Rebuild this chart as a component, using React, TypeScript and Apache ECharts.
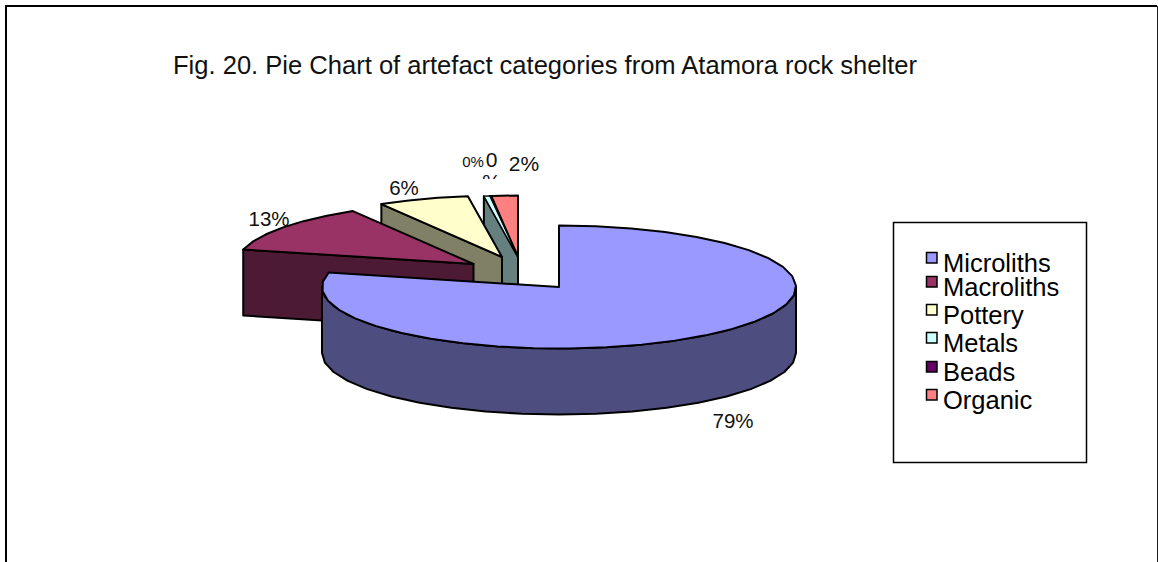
import React, { useEffect, useRef } from "react";
import * as echarts from "echarts";

const categories = ["Microliths", "Macroliths", "Pottery", "Metals", "Beads", "Organic"];
const shares = [78.8, 12.7, 6.2, 0.4, 0.1, 1.8];
const topColors = ["#9999FF", "#993366", "#FFFFCC", "#CCFFFF", "#660066", "#FF8080"];
const wallColors = ["#4D4D80", "#4D1A33", "#808066", "#668080", "#330033", "#804040"];

// Apex of each pulled-out slice on the page.
const apexX = [559, 473.5, 502, 518, 518, 518];
const apexY = [287, 264, 257, 257, 257, 257];

const RX = 237;
const RY = 61.5;
const DEPTH = 66;
const ARC_STEP = 9;
const FONT = '"Liberation Sans", Arial, sans-serif';

const legendRowY = [263, 287, 315, 343, 372, 400];
const labelX = [733, 269, 404, 473, 491.5, 524];
const labelY = [420, 218, 187, 161, 159, 163];
const labelSize = [20.5, 20.5, 20.5, 15, 21, 21];

function rimPoint(cx: number, cy: number, deg: number, drop = 0): number[] {
  const a = (deg * Math.PI) / 180;
  return [cx + RX * Math.sin(a), cy - RY * Math.cos(a) + drop];
}

function arcPoints(cx: number, cy: number, from: number, to: number, drop = 0): number[][] {
  const pts: number[][] = [];
  const n = Math.max(1, Math.ceil((to - from) / ARC_STEP));
  for (let k = 0; k <= n; k++) pts.push(rimPoint(cx, cy, from + ((to - from) * k) / n, drop));
  return pts;
}

function sliceAngles(index: number): [number, number] {
  const total = shares.reduce((s, v) => s + v, 0);
  const before = shares.slice(0, index).reduce((s, v) => s + v, 0);
  return [(before / total) * 360, ((before + shares[index]) / total) * 360];
}

const outline = (fill: string, width = 2) => ({ fill, stroke: "#000", lineWidth: width, lineJoin: "round" as const });

function renderSlice(_: unknown, api: any) {
  const i = api.value(0) as number;
  const [from, to] = sliceAngles(i);
  const cx = apexX[i];
  const cy = apexY[i];
  const children: any[] = [];

  // Rim wall on the part of the arc that faces the viewer.
  const frontFrom = Math.max(from, 90);
  const frontTo = Math.min(to, 270);
  if (frontTo > frontFrom) {
    const upper = arcPoints(cx, cy, frontFrom, frontTo);
    const lower = arcPoints(cx, cy, frontFrom, frontTo, DEPTH).reverse();
    children.push({
      type: "polygon",
      shape: { points: upper.concat(lower) },
      style: outline(wallColors[i]),
    });
  }

  // The cut face along the slice's leading edge, dropped by the pie's depth.
  if (from >= 180) {
    const edge = rimPoint(cx, cy, from);
    children.push({
      type: "polygon",
      shape: {
        points: [edge, [cx, cy], [cx, cy + DEPTH], [edge[0], edge[1] + DEPTH]],
      },
      style: outline(wallColors[i]),
    });
  }

  children.push({
    type: "polygon",
    shape: { points: [[cx, cy], ...arcPoints(cx, cy, from, to)] },
    style: outline(topColors[i], i === 3 || i === 4 ? 1.2 : 2),
  });
  return { type: "group", children };
}

function renderLabel(_: unknown, api: any) {
  const i = api.value(0) as number;
  const pct = `${Math.round(shares[i])}%`;
  const wrapped = categories[i] === "Beads";
  return {
    type: "text",
    x: labelX[i],
    y: labelY[i],
    style: {
      text: wrapped ? pct.replace("%", "\n%") : pct,
      fontFamily: FONT,
      fontSize: labelSize[i],
      lineHeight: wrapped ? 22.5 : labelSize[i],
      fill: "#111",
      align: "center",
      verticalAlign: wrapped ? "top" : "middle",
    },
    // The wrapped label is cut off just above the slices.
    ...(wrapped
      ? { y: labelY[i] - 11, clipPath: { type: "rect", shape: { x: -20, y: 0, width: 40, height: 31 } } }
      : {}),
  };
}

function legendGraphics() {
  const items: any[] = [
    {
      type: "rect",
      shape: { x: 893.5, y: 222.5, width: 193, height: 240 },
      style: { fill: "#fff", stroke: "#000", lineWidth: 1.5 },
    },
  ];
  categories.forEach((name, i) => {
    items.push({
      type: "rect",
      shape: { x: 926.5, y: legendRowY[i] - 10.5, width: 10.5, height: 10.5 },
      style: { fill: topColors[i], stroke: "#000", lineWidth: 1.5 },
    });
    items.push({
      type: "text",
      x: 943,
      y: legendRowY[i],
      style: {
        text: name,
        fontFamily: FONT,
        fontSize: 25.5,
        lineHeight: 23,
        fill: "#000",
        verticalAlign: "middle",
      },
    });
  });
  return items;
}

export default function App() {
  const ref = useRef<HTMLDivElement>(null);

  useEffect(() => {
    if (!ref.current) return;
    const chart = echarts.init(ref.current, undefined, { renderer: "svg" });
    const paintOrder = categories.map((_, i) => [categories.length - 1 - i]);
    chart.setOption({
      animation: false,
      backgroundColor: "#fff",
      title: {
        text: "Fig. 20. Pie Chart of artefact categories from Atamora rock shelter",
        left: 173,
        top: 52,
        padding: 0,
        textStyle: { fontFamily: FONT, fontSize: 25.55, fontWeight: "normal", color: "#111" },
      },
      graphic: [
        {
          type: "polyline",
          shape: { points: [[6, 562], [6, 6], [1157, 6]] },
          style: { fill: "none", stroke: "#000", lineWidth: 2 },
        },
        {
          type: "line",
          shape: { x1: 1157.5, y1: 6, x2: 1157.5, y2: 562 },
          style: { stroke: "#222", lineWidth: 1 },
        },
        ...legendGraphics(),
      ],
      series: [
        {
          type: "custom",
          name: "labels",
          coordinateSystem: "none",
          silent: true,
          z: 1,
          data: categories.map((_, i) => [i]),
          renderItem: renderLabel,
        },
        {
          type: "custom",
          name: "slices",
          coordinateSystem: "none",
          silent: true,
          z: 2,
          data: paintOrder,
          renderItem: renderSlice,
        },
      ],
    });
    return () => chart.dispose();
  }, []);

  return <div ref={ref} style={{ position: "absolute", left: 0, top: 0, width: 1158, height: 562 }} />;
}
